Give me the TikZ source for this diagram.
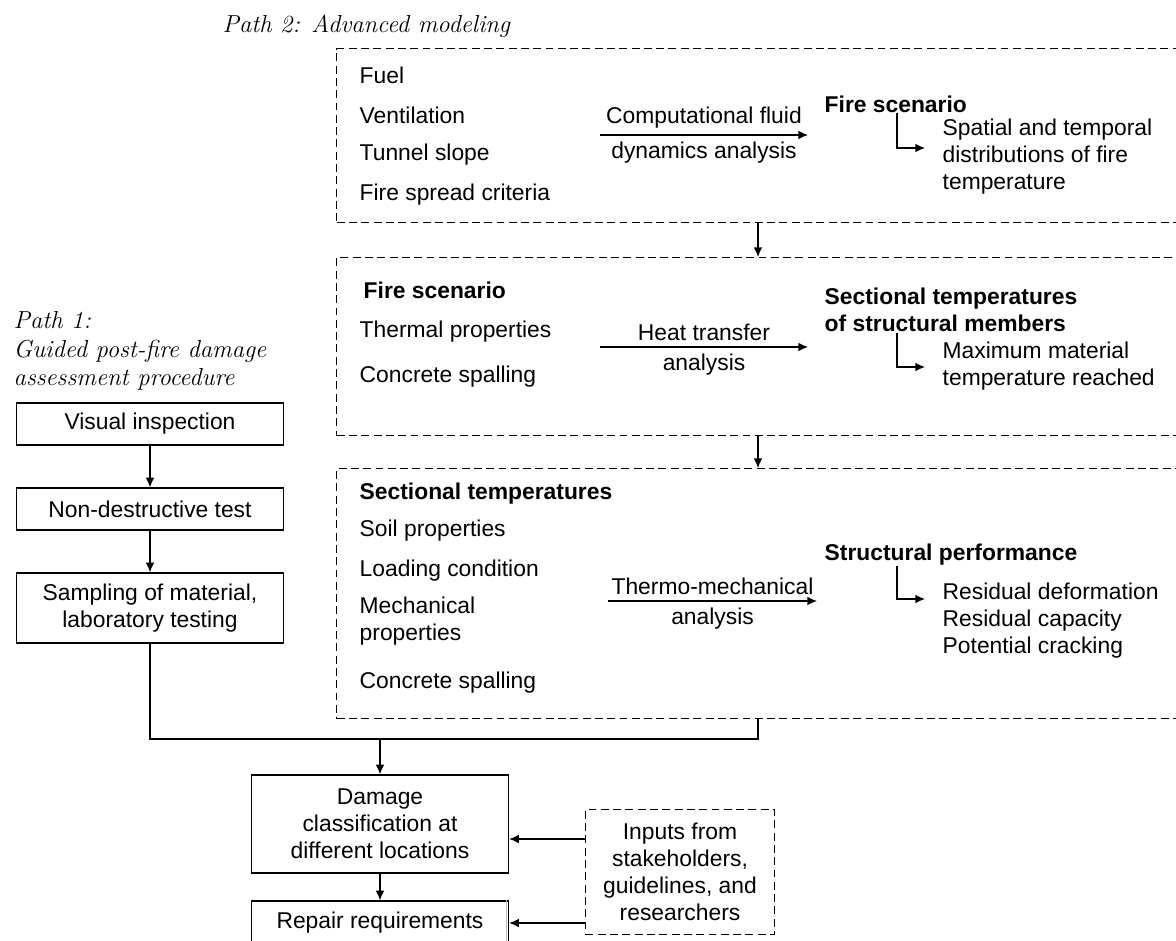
\documentclass[tikz,border=0pt]{standalone}
\usepackage{fontspec}
\newfontfamily\arial{Liberation Sans}
\usetikzlibrary{arrows.meta,positioning}

\begin{document}
\begin{tikzpicture}[x=0.02cm,y=-0.02cm,line width=0.8pt,
    font=\arial\fontsize{13}{15.4}\selectfont,
    arr/.style={-{Latex[length=5.5pt,width=5pt]}},
    stepbox/.style={draw,align=center,minimum width=5.34cm,inner sep=2pt},
    dashbox/.style={draw,dash pattern=on 4.5pt off 2.5pt,anchor=north west,
      minimum width=17.28cm,inner sep=0pt},
    item/.style={anchor=west,inner sep=0pt,align=left},
    head/.style={item,font=\arial\bfseries\fontsize{13}{15.4}\selectfont},
    pathlabel/.style={anchor=west,inner sep=0pt,align=left,
      font=\rmfamily\itshape\fontsize{14}{16.2}\selectfont}]
  \useasboundingbox (0,0) rectangle (1176,940);

  \node[pathlabel] (path2) at (222,26) {Path 2: Advanced modeling};

  \node[dashbox,minimum height=3.48cm] (fluid) at (336,48)  {};
  \node[dashbox,minimum height=3.56cm] (heat)  at (336,257) {};
  \node[dashbox,minimum height=5cm]    (mech)  at (336,468) {};

  \node[item] (fuel)   at (359,75)  {Fuel};
  \node[item] (vent)   at (359,115) {Ventilation};
  \node[item] (slope)  at (359,155) {Tunnel slope};
  \node[item] (spread) at (359,195) {Fire spread criteria};
  \node[head] (scen1)  at (824,104) {Fire scenario};
  \node[item] (dist)   at (942,157) {Spatial and temporal\\distributions of fire\\temperature};
  \coordinate (cfdA) at (600,135);
  \coordinate (cfdB) at (808,135);
  \coordinate (tip1) at (925,148);

  \node[head] (scen2)  at (363,290) {Fire scenario};
  \node[item] (therm)  at (359,332) {Thermal properties};
  \node[item] (spall2) at (359,377) {Concrete spalling};
  \node[head] (sect2)  at (824,310) {Sectional temperatures\\of structural members};
  \node[item] (maxt)   at (942,366) {Maximum material\\temperature reached};
  \coordinate (htA) at (600,347);
  \coordinate (htB) at (808,347);
  \coordinate (tip2) at (925,367);

  \node[head] (sect3)  at (359,494) {Sectional temperatures};
  \node[item] (soil)   at (359,531) {Soil properties};
  \node[item] (load)   at (359,571) {Loading condition};
  \node[item] (mechp)  at (359,621) {Mechanical\\properties};
  \node[item] (spall3) at (359,683) {Concrete spalling};
  \node[head] (perf)   at (824,555) {Structural performance};
  \node[item] (resid)  at (942,621) {Residual deformation\\Residual capacity\\Potential cracking};
  \coordinate (tmA) at (608,601);
  \coordinate (tmB) at (817,601);
  \coordinate (tip3) at (925,599);

  \node[pathlabel] (path1) at (13,351) {Path 1:\\Guided post-fire damage\\assessment procedure};
  \node[stepbox,minimum height=0.84cm] (visual) at (150,424) {Visual inspection};
  \node[stepbox,minimum height=0.84cm] (ndt)    at (150,509) {Non-destructive test};
  \node[stepbox,minimum height=1.4cm]  (sample) at (150,608) {Sampling of material,\\laboratory testing};
  \coordinate (join)  at (758,739);
  \coordinate (merge) at (380,739);

  \node[stepbox,minimum width=5.14cm,minimum height=1.96cm] (damage) at (380,824) {Damage\\classification at\\different locations};
  \node[stepbox,minimum width=5.14cm,minimum height=0.88cm] (repair) at (380,923) {Repair requirements};
  \node[stepbox,dash pattern=on 4.5pt off 2.5pt,minimum width=3.78cm,minimum height=2.5cm] (inputs) at (680,872) {Inputs from\\stakeholders,\\guidelines, and\\researchers};
  \draw[gray!50,line width=0.4pt] ([xshift=-0.06cm]repair.north east) -- ([xshift=-0.06cm]repair.south east);

  \draw[arr] (cfdA) -- node[above]{Computational fluid} node[below]{dynamics analysis} (cfdB);
  \draw[arr] (htA) -- node[above]{Heat transfer} node[below]{analysis} (htB);
  \draw[arr] (tmA) -- node[above]{Thermo-mechanical} node[below]{analysis} (tmB);
  \draw[arr] (scen1.south -| 897,0) |- (tip1);
  \draw[arr] (sect2.south -| 897,0) |- (tip2);
  \draw[arr] (perf.south -| 897,0) |- (tip3);
  \draw[arr] (fluid.south -| join) -- (heat.north -| join);
  \draw[arr] (heat.south -| join) -- (mech.north -| join);

  \draw[arr] (visual) -- (ndt);
  \draw[arr] (ndt) -- (sample);
  \draw (sample) |- (join) -- (join |- mech.south);
  \draw[arr] (merge) -- (damage);
  \draw[arr] (damage) -- (repair);
  \draw[arr] (inputs.west |- 0,839) -- (damage.east |- 0,839);
  \draw[arr] (inputs.west |- repair.east) -- (repair.east);
\end{tikzpicture}
\end{document}
